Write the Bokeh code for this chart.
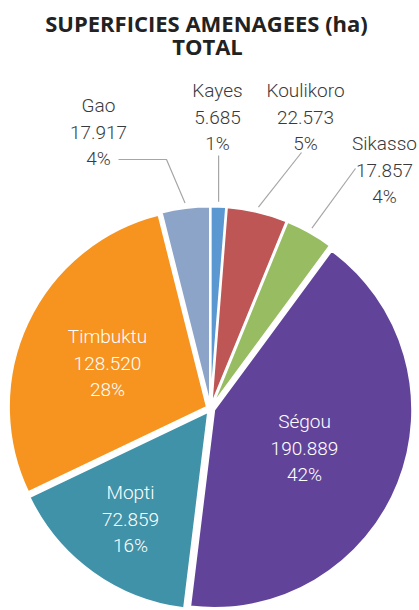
import math
from bokeh.plotting import figure
from bokeh.models import ColumnDataSource
from bokeh.core.properties import value
from bokeh.embed import file_html
from bokeh.resources import INLINE

# ---- data ----
regions = ["Kayes", "Koulikoro", "Sikasso", "Ségou", "Mopti", "Timbuktu", "Gao"]
areas = [5685, 22573, 17857, 190889, 72859, 128520, 17917]
colors = ["#5B97D0", "#BD5654", "#97BC62", "#61449A", "#3F92A8", "#F6941F", "#8BA4C8"]
title_lines = ["SUPERFICIES AMENAGEES (ha)", "TOTAL"]

# ---- layout (page pixel coordinates) ----
W, H = 419, 610
def px(x):
    return x
def py(y):
    return H - y

CX, CY, R, EXPLODE = 210, 408, 198, 4
LABEL_FONT = value("Roboto Light")
LINE_STEP = 26.5

# label anchor (page coords of first line centre) and whether inside
label_pos = {
    "Kayes": (217, 90, False),
    "Koulikoro": (305, 90, False),
    "Sikasso": (384, 143, False),
    "Ségou": (304, 421, True),
    "Mopti": (130, 492, True),
    "Timbuktu": (107, 336, True),
    "Gao": (98, 105, False),
}
# connector start points (page coords) and optional elbow
connector_start = {
    "Kayes": (None, 155, None),
    "Koulikoro": (301, 152, None),
    "Sikasso": (355, 168, None),
    "Gao": (118, 159, (166, 159)),
}

total = sum(areas)
fracs = [a / total for a in areas]

p = figure(width=W, height=H, x_range=(0, W), y_range=(0, H),
           output_backend="svg", toolbar_location=None, min_border=0,
           x_axis_type=None, y_axis_type=None)
p.grid.visible = False
p.outline_line_color = None
p.background_fill_color = "white"
p.border_fill_color = "white"

# wedges
xs, ys, starts, ends, mids = [], [], [], [], []
cum = 0.0
for f in fracs:
    a0 = math.pi / 2 - cum * 2 * math.pi
    a1 = math.pi / 2 - (cum + f) * 2 * math.pi
    am = (a0 + a1) / 2
    xs.append(px(CX) + EXPLODE * math.cos(am))
    ys.append(py(CY) + EXPLODE * math.sin(am))
    starts.append(a0)
    ends.append(a1)
    mids.append(am)
    cum += f

src = ColumnDataSource(dict(x=xs, y=ys, start=starts, end=ends, color=colors))
p.wedge(x="x", y="y", radius=R, radius_units="screen", start_angle="start",
        end_angle="end", direction="clock", fill_color="color",
        line_color="white", line_width=2, source=src)

# connectors
for i, name in enumerate(regions):
    if name not in connector_start:
        continue
    am = mids[i]
    ex = xs[i] + (R + 5) * math.cos(am)
    ey = ys[i] + (R + 5) * math.sin(am)
    sx, sy, elbow = connector_start[name]
    if sx is None:
        lx = [ex, ex]
        ly = [py(sy), ey]
    elif elbow is None:
        lx = [px(sx), ex]
        ly = [py(sy), ey]
    else:
        lx = [px(sx), px(elbow[0]), ex]
        ly = [py(sy), py(elbow[1]), ey]
    p.line(lx, ly, line_color="#A6A6A6", line_width=1.2)

# labels
for i, name in enumerate(regions):
    lx, ly, inside = label_pos[name]
    pct = f"{round(fracs[i] * 100)}%"
    val = f"{areas[i]:,}".replace(",", ".")
    lines = [name, val, pct]
    col = "white" if inside else "#3A3A3A"
    p.text(x=[px(lx)] * 3, y=[py(ly + k * LINE_STEP) for k in range(3)],
           text=lines, text_font=LABEL_FONT, text_font_size="19px",
           text_color=col, text_align="center", text_baseline="middle")

# title
p.text(x=[px(206), px(207)], y=[py(22), py(45)], text=title_lines,
       text_font=value("Open Sans"), text_font_style="bold", text_font_size="22px",
       text_color="#222222", text_align="center", text_baseline="middle")

open("out.html", "w").write(file_html(p, INLINE))
